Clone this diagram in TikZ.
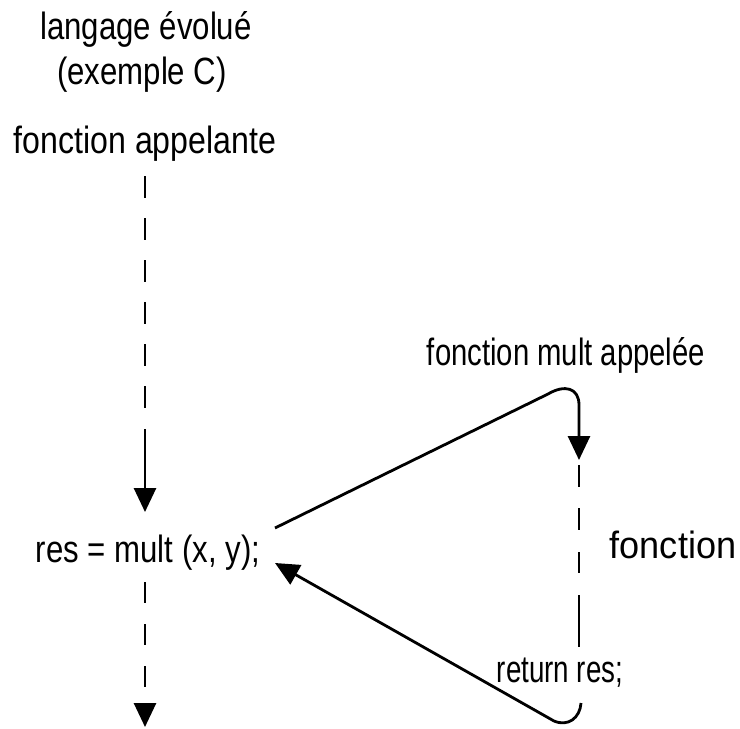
\documentclass[tikz,border=0pt]{standalone}
\usepackage{fontspec}
\setmainfont{Liberation Sans}[FakeStretch=0.82]
\usetikzlibrary{arrows.meta,calc}
\begin{document}
\begin{tikzpicture}[x=1pt,y=-1pt,
  lbl/.style={inner sep=0pt, font=\fontsize{38}{44}\selectfont, anchor=base},
  conn/.style={line width=2.8pt, line join=round},
  tip/.style={-{Triangle[length=24pt,width=22pt]}},
  rtip/.style={{Triangle[length=24pt,width=22pt]}-}]
\useasboundingbox (0,0) rectangle (740,729);
\node[lbl] (title1) at (146,39) {langage évolué};
\node[lbl] (title2) at (142,84) {(exemple C)};
\node[lbl] (caller) at (145,153) {{\addfontfeatures{FakeStretch=0.845}fonction appelante}};
\node[lbl] (call) at (148,562) {res = mult (x, y);};
\node[lbl] (callee) at (566,365) {{\addfontfeatures{FakeStretch=0.77}fonction mult appelée}};
\node[lbl] (fn) at (673,558) {{\addfontfeatures{FakeStretch=0.95}fonction}};
\node[lbl] (ret) at (560,682) {{\addfontfeatures{FakeStretch=0.73}return res;}};
% caller -> call
\draw[conn,tip,dash pattern=on 22pt off 20pt on 22pt off 20pt on 22pt off 20pt on 22pt off 20pt on 22pt off 20pt on 22pt off 21pt on 200pt off 10pt]
  ($(caller.base)+(0,23)$) -- ($(call.base)+(-3,-50)$);
% call -> continue
\draw[conn,tip,dash pattern=on 21pt off 21pt]
  ($(call.base)+(-3,20)$) -- ($(call.base)+(-3,165)$);
% call -> callee
\draw[conn,tip] ($(call.base)+(127,-34)$) -- (548,394)
  .. controls (565,384) and (579,388) .. (579,405) -- ($(callee.base)+(13,95)$);
% callee body
\draw[conn,dash pattern=on 22pt off 21pt on 22pt off 22pt on 21pt off 22pt on 60pt off 10pt]
  ($(callee.base)+(13,100)$) -- ($(ret.base)+(19,-35)$);
% return
\draw[conn,rtip] ($(call.base)+(127,1)$) -- (554,721)
  .. controls (568,727) and (580,718) .. ($(ret.base)+(21,21)$);
\end{tikzpicture}
\end{document}
